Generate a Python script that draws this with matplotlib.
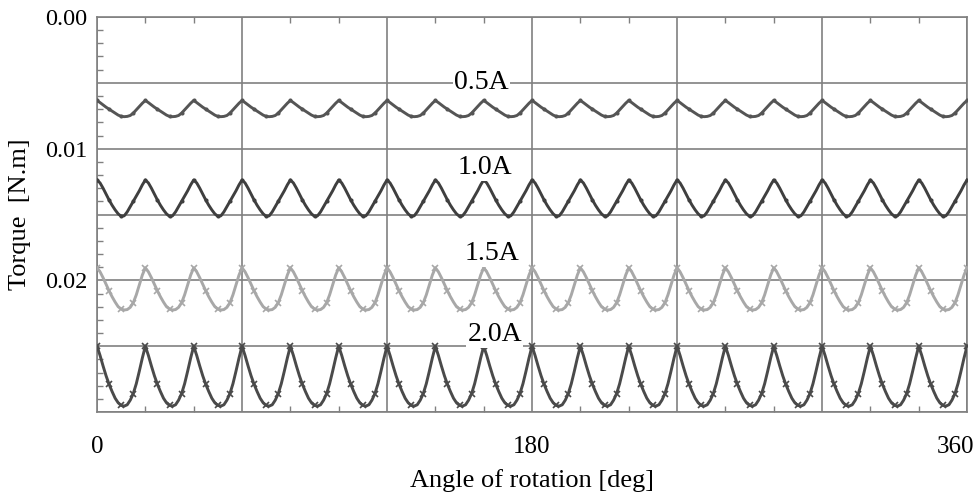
import numpy as np
import matplotlib.pyplot as plt
from matplotlib.ticker import MultipleLocator, FuncFormatter
from matplotlib.transforms import ScaledTranslation

# ---------------------------------------------------------------------------
# 数据：一个齿槽周期 (20 deg) 内的转矩，每 1.25 deg 一个点，360 deg 内重复 18 次
# ---------------------------------------------------------------------------
period_deg = 20.0
n_periods = 18
step_deg = 1.25

torque_05A = [0.00634, 0.00650, 0.00668, 0.00685, 0.00700, 0.00715, 0.00730, 0.00745,
              0.00755, 0.00757, 0.00755, 0.00748, 0.00730, 0.00705, 0.00680, 0.00655]
torque_10A = [0.01238, 0.01260, 0.01300, 0.01345, 0.01390, 0.01430, 0.01465, 0.01495,
              0.01514, 0.01510, 0.01480, 0.01440, 0.01400, 0.01360, 0.01320, 0.01275]
torque_15A = [0.01905, 0.01935, 0.01980, 0.02030, 0.02080, 0.02125, 0.02165, 0.02200,
              0.02218, 0.02225, 0.02222, 0.02205, 0.02170, 0.02110, 0.02035, 0.01960]
torque_20A = [0.02500, 0.02570, 0.02650, 0.02725, 0.02790, 0.02845, 0.02895, 0.02930,
              0.02950, 0.02955, 0.02945, 0.02910, 0.02860, 0.02785, 0.02690, 0.02590]

labels = ["0.5A", "1.0A", "1.5A", "2.0A"]
label_pos = [(159.0, 0.0050), (160.5, 0.01140), (163.5, 0.01795), (164.5, 0.02410)]
colors = ["#555555", "#3f3f3f", "#a8a8a8", "#4a4a4a"]
markers = [".", ".", "x", "x"]

x_ticks = [0, 180, 360]
y_labeled = [0.00, 0.01, 0.02]

# ---------------------------------------------------------------------------
plt.rcParams["font.family"] = ["Liberation Serif", "DejaVu Serif"]

fig = plt.figure(figsize=(9.78, 4.97), dpi=100)
ax = fig.add_axes([0.0992, 0.171, 0.8896, 0.7948])

n = int(round(n_periods * period_deg / step_deg))
angle = np.arange(n + 1) * step_deg

for series, color, mk in zip([torque_05A, torque_10A, torque_15A, torque_20A], colors, markers):
    one = np.asarray(series)
    vals = np.append(np.tile(one, n_periods), one[0])
    ax.plot(angle, vals, color=color, lw=2.1, marker=mk, markevery=4,
            ms=5 if mk == "x" else 3.5, mew=1.2, zorder=3)

for text, (xp, yp) in zip(labels, label_pos):
    ax.text(xp, yp, text, ha="center", va="center", fontsize=20,
            bbox=dict(facecolor="white", edgecolor="none", pad=0.8), zorder=4)

ax.set_xlim(0, 360)
ax.set_ylim(0.03, 0.0)

ax.xaxis.set_major_locator(MultipleLocator(60))
ax.xaxis.set_minor_locator(MultipleLocator(20))
ax.yaxis.set_major_locator(MultipleLocator(0.005))
ax.yaxis.set_minor_locator(MultipleLocator(0.001))

ax.xaxis.set_major_formatter(FuncFormatter(
    lambda v, p: f"{v:.0f}" if any(abs(v - t) < 1e-6 for t in x_ticks) else ""))
ax.yaxis.set_major_formatter(FuncFormatter(
    lambda v, p: f"{v:.2f}" if any(abs(v - t) < 1e-9 for t in y_labeled) else ""))

ax.grid(True, which="major", color="#808080", lw=1.2)
ax.tick_params(which="both", direction="in", colors="#808080", top=True, labelcolor="black")
ax.tick_params(which="major", length=0)
ax.tick_params(which="minor", length=4, width=1)
ax.tick_params(axis="x", pad=17, labelsize=18)
ax.tick_params(axis="y", pad=7, labelsize=17.5)
for sp in ax.spines.values():
    sp.set_color("#808080")
    sp.set_linewidth(1.2)

ax.set_xlabel("Angle of rotation [deg]", fontsize=19, labelpad=8)
ax.set_ylabel("Torque  [N.m]", fontsize=19, labelpad=10)

# 最右侧 "360" 向左移，避免超出画布
fig.canvas.draw()
for lbl in ax.get_xticklabels():
    if lbl.get_text() == "360":
        lbl.set_transform(lbl.get_transform() + ScaledTranslation(-12 / 100, 0, fig.dpi_scale_trans))

fig.savefig("out.png", dpi=100)
